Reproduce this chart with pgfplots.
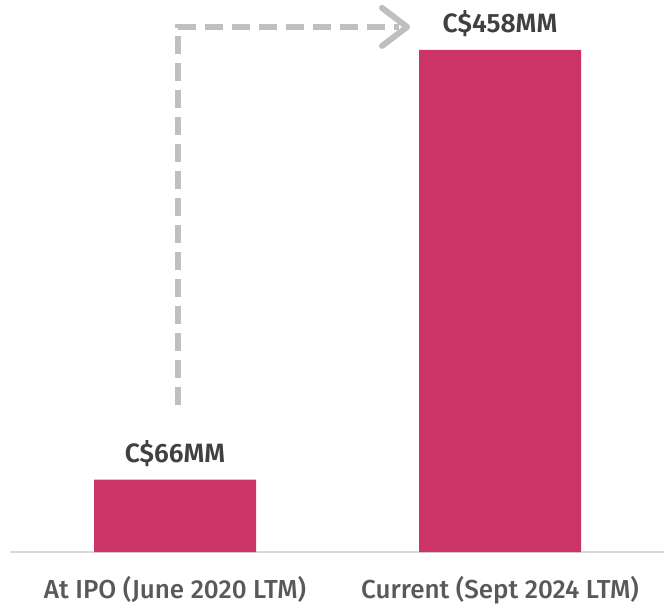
\documentclass[border=0pt]{standalone}
\usepackage{fontspec}
\setmainfont{Fira Sans}
\newfontfamily\medfont{Fira Sans Medium}
\newfontfamily\semifont{Fira Sans SemiBold}
\usepackage{pgfplots}
\pgfplotsset{compat=1.18}
\definecolor{barc}{HTML}{CC3366}
\definecolor{lblc}{HTML}{404040}
\definecolor{tickc}{HTML}{595959}
\definecolor{arrc}{HTML}{BFBFBF}
\definecolor{basec}{HTML}{D9D9D9}
\begin{document}
\begin{tikzpicture}
\begin{axis}[
  scale only axis,
  width=654pt, height=552pt,
  xmin=-0.5077, xmax=1.5046,
  ymin=0, ymax=503.6,
  axis x line*=bottom,
  axis y line=none,
  x axis line style={basec, line width=1.5pt, -},
  xtick={0,1},
  xticklabels={At IPO (June 2020 LTM),Current (Sept 2024 LTM)},
  major tick length=0pt,
  xticklabel style={anchor=base, yshift=-46pt, font=\medfont\fontsize{26}{30}\selectfont, text=tickc},
  ybar, bar width=162pt,
  clip=false,
  /pgf/number format/assume math mode=true,
  nodes near coords={C\$\pgfmathprintnumber{\pgfplotspointmeta}MM},
  every node near coord/.append style={anchor=base, yshift=17pt, font=\semifont\fontsize{26.5}{30}\selectfont, text=lblc},
]
\addplot[fill=barc, draw=none] coordinates {(0,66) (1,458)};
\draw[arrc, line width=6pt, dash pattern=on 18pt off 9pt] (axis cs:0.009,134) -- (axis cs:0.009,479) -- (axis cs:0.69,479);
\draw[arrc, line width=6pt, line cap=round, line join=round] (axis cs:0.637,496.4) -- (axis cs:0.714,479) -- (axis cs:0.637,461.7);
\end{axis}
\pgfresetboundingbox
\path[use as bounding box] ([shift={(-10pt,-56pt)}]current axis.south west) rectangle (current axis.north east);
\end{tikzpicture}
\end{document}
